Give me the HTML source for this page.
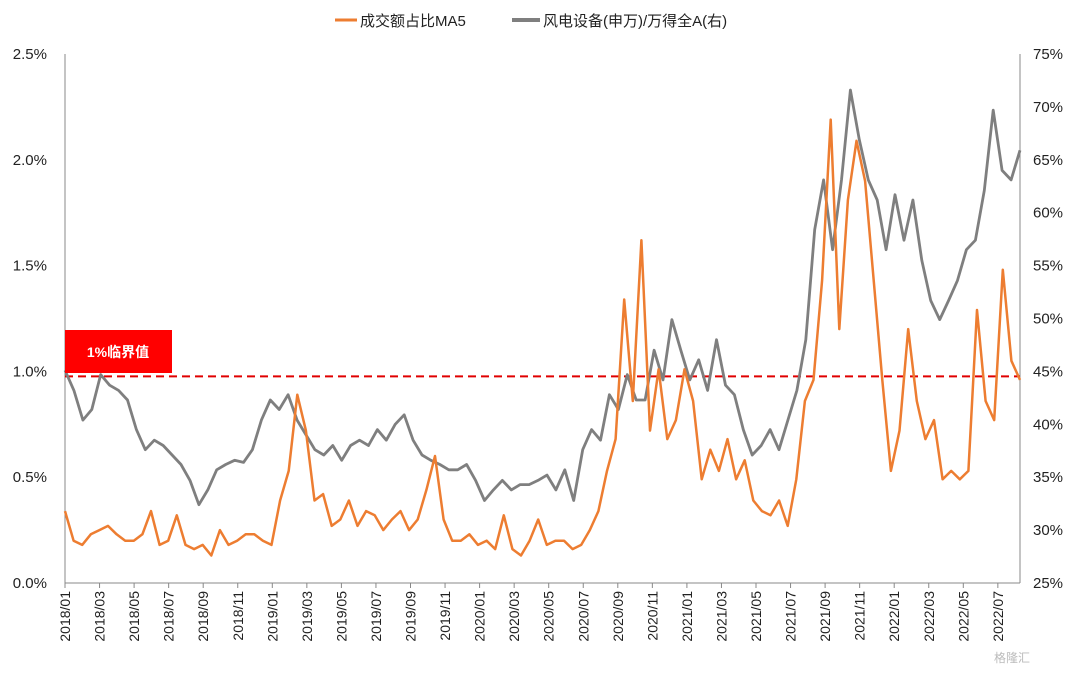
<!DOCTYPE html>
<html><head><meta charset="utf-8">
<style>
body{margin:0;background:#fff;font-family:"Liberation Sans","Noto Sans CJK SC",sans-serif;}
svg text{font-family:"Liberation Sans","Noto Sans CJK SC",sans-serif;}
</style></head>
<body>
<svg id="chart" width="1080" height="671" xmlns="http://www.w3.org/2000/svg">
<g id="legend">
 <line x1="335" y1="20" x2="357" y2="20" stroke="#ED7D31" stroke-width="3"/>
 <text x="360" y="26" font-size="15" fill="#222">成交额占比MA5</text>
 <line x1="512" y1="20" x2="540" y2="20" stroke="#7F7F7F" stroke-width="4"/>
 <text x="543" y="26" font-size="15" fill="#222">风电设备(申万)/万得全A(右)</text>
</g>
<g id="axes"></g>
<g id="series"></g>
<rect x="65" y="330" width="107" height="43" fill="#FF0000"/>
<text x="118" y="357" font-size="14" font-weight="bold" fill="#fff" text-anchor="middle">1%临界值</text>
<text x="1030" y="662" font-size="12" fill="#bbb" text-anchor="end">格隆汇</text>
</svg>
<script>
const leftTicks=[0,0.5,1.0,1.5,2.0,2.5];
const rightTicks=[25,30,35,40,45,50,55,60,65,70,75];
const xLabels=["2018/01","2018/03","2018/05","2018/07","2018/09","2018/11","2019/01","2019/03","2019/05","2019/07","2019/09","2019/11","2020/01","2020/03","2020/05","2020/07","2020/09","2020/11","2021/01","2021/03","2021/05","2021/07","2021/09","2021/11","2022/01","2022/03","2022/05","2022/07"];
const thresholdValue=1.0;
const grayValues=[45.1,43.2,40.4,41.4,44.7,43.7,43.2,42.3,39.5,37.6,38.5,38.0,37.1,36.2,34.7,32.4,33.8,35.7,36.2,36.6,36.4,37.6,40.4,42.3,41.4,42.8,40.4,39.0,37.6,37.1,38.0,36.6,38.0,38.5,38.0,39.5,38.5,40.0,40.9,38.5,37.1,36.6,36.2,35.7,35.7,36.2,34.7,32.8,33.8,34.7,33.8,34.3,34.3,34.7,35.2,33.8,35.7,32.8,37.6,39.5,38.5,42.8,41.4,44.7,42.3,42.3,47.0,44.2,49.9,47.0,44.2,46.1,43.2,48.0,43.7,42.8,39.5,37.1,38.0,39.5,37.6,40.4,43.2,48.0,58.4,63.1,56.5,63.1,71.6,66.9,63.1,61.2,56.5,61.7,57.4,61.2,55.5,51.7,49.9,51.7,53.6,56.5,57.4,62.1,69.7,64.0,63.1,65.9];
const orangeValues=[0.34,0.20,0.18,0.23,0.25,0.27,0.23,0.20,0.20,0.23,0.34,0.18,0.20,0.32,0.18,0.16,0.18,0.13,0.25,0.18,0.20,0.23,0.23,0.20,0.18,0.39,0.53,0.89,0.72,0.39,0.42,0.27,0.30,0.39,0.27,0.34,0.32,0.25,0.30,0.34,0.25,0.30,0.44,0.60,0.30,0.20,0.20,0.23,0.18,0.20,0.16,0.32,0.16,0.13,0.20,0.30,0.18,0.20,0.20,0.16,0.18,0.25,0.34,0.53,0.68,1.34,0.86,1.62,0.72,1.01,0.68,0.77,1.01,0.86,0.49,0.63,0.53,0.68,0.49,0.58,0.39,0.34,0.32,0.39,0.27,0.49,0.86,0.96,1.43,2.19,1.20,1.81,2.09,1.90,1.43,0.96,0.53,0.72,1.20,0.86,0.68,0.77,0.49,0.53,0.49,0.53,1.29,0.86,0.77,1.48,1.05,0.96];

const L=65,R=1020,T=54,B=583;
const yL=v=>B-(v/2.5)*(B-T);
const yR=v=>B-((v-25)/50)*(B-T);
const xLab=i=>L+i*34.55;
const xIdx=(i,n)=>L+i*(R-L)/(n-1);
const NS="http://www.w3.org/2000/svg";
function mk(tag,attrs,parent,txt){const e=document.createElementNS(NS,tag);for(const k in attrs)e.setAttribute(k,attrs[k]);if(txt!==undefined)e.textContent=txt;parent.appendChild(e);return e;}
const ax=document.getElementById('axes');
let e;
e=mk('line',{x1:L,y1:T,x2:L,y2:B,stroke:'#888','stroke-width':1},ax);


e=mk('line',{x1:R,y1:T,x2:R,y2:B,stroke:'#888','stroke-width':1},ax);


e=mk('line',{x1:L,y1:B,x2:R,y2:B,stroke:'#888','stroke-width':1},ax);


leftTicks.forEach(v=>{
 e=mk('text',{x:L-18,y:yL(v)+5,'font-size':15,fill:'#222','text-anchor':'end'},ax,v.toFixed(1)+'%');
 
 
});
rightTicks.forEach(v=>{
 e=mk('text',{x:R+13,y:yR(v)+5,'font-size':15,fill:'#222'},ax,v+'%');
 
 
});
xLabels.forEach((s,i)=>{
 const x=xLab(i);
 e=mk('line',{x1:x,y1:B,x2:x,y2:B+5,stroke:'#888'},ax);
 
 
 e=mk('text',{x:0,y:0,'font-size':14,fill:'#222','text-anchor':'end',transform:`translate(${x+5},${B+8}) rotate(-90)`},ax,s);
 
 
});
const sg=document.getElementById('series');
const ty=yL(thresholdValue)+5;
e=mk('line',{x1:L,y1:ty,x2:R,y2:ty,stroke:'#E00000','stroke-width':2,'stroke-dasharray':'8,5'},sg);


e=mk('polyline',{points:orangeValues.map((v,i)=>xIdx(i,orangeValues.length).toFixed(1)+','+yL(v).toFixed(1)).join(' '),fill:'none',stroke:'#ED7D31','stroke-width':2.5,'stroke-linejoin':'round'},sg);


e=mk('polyline',{points:grayValues.map((v,i)=>xIdx(i,grayValues.length).toFixed(1)+','+yR(v).toFixed(1)).join(' '),fill:'none',stroke:'#7F7F7F','stroke-width':2.8,'stroke-linejoin':'round'},sg);


sg.insertBefore(sg.lastChild,sg.children[1]);
</script>
</body></html>
